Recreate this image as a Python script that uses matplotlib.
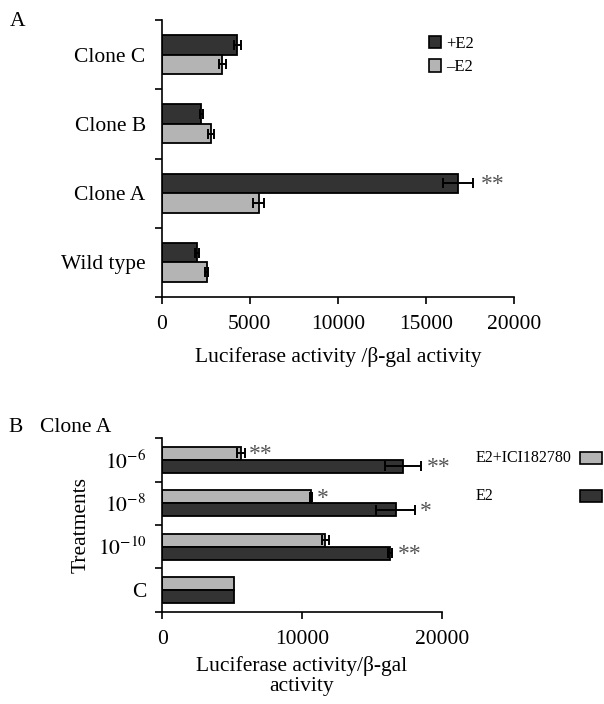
import matplotlib
matplotlib.use("Agg")
import matplotlib.pyplot as plt
import numpy as np
from matplotlib.patches import Rectangle

plt.rcParams['font.family'] = ['Liberation Serif', 'DejaVu Serif']
plt.rcParams['mathtext.fontset'] = 'stix'

# ---------------- Data: panel A ----------------
clones = ['Wild type', 'Clone A', 'Clone B', 'Clone C']
plus_e2 = [2000, 16800, 2250, 4300]
plus_e2_err = [100, 850, 100, 200]
minus_e2 = [2550, 5500, 2800, 3450]
minus_e2_err = [100, 300, 150, 200]
plus_e2_sig = ['', '**', '', '']
a_ticks = [0, 5000, 10000, 15000, 20000]

# ---------------- Data: panel B ----------------
treatments = ['C', r'$10^{-10}$', r'$10^{-8}$', r'$10^{-6}$']
e2_ici = [5130, 11650, 10650, 5630]
e2_ici_err = [0, 250, 100, 300]
e2_ici_sig = ['', '', '*', '**']
e2 = [5130, 16300, 16700, 17250]
e2_err = [0, 150, 1370, 1300]
e2_sig = ['', '**', '*', '**']
b_ticks = [0, 10000, 20000]

DARK = '#333333'
LIGHT = '#b4b4b4'
FS = 15.5

W, H = 604, 704
fig = plt.figure(figsize=(W / 100, H / 100), dpi=100)


def px_axes(l, t, r, b):
    return fig.add_axes([l / W, 1 - b / H, (r - l) / W, (b - t) / H])


def style_axes(ax, n, xt, xmax):
    for s in ('top', 'right'):
        ax.spines[s].set_visible(False)
    for s in ('left', 'bottom'):
        ax.spines[s].set_linewidth(1.2)
    ax.set_xlim(0, xmax)
    ax.set_ylim(-0.5, n - 0.5)
    ax.set_xticks(xt)
    ax.set_xticklabels([str(v) for v in xt])
    ax.set_yticks(np.arange(n + 1) - 0.5, minor=True)
    ax.tick_params(axis='y', which='minor', length=5, width=1.2, direction='out')
    ax.tick_params(axis='y', which='major', length=0, pad=11.5, labelsize=FS)
    ax.tick_params(axis='x', length=5, width=1.2, direction='out', pad=8, labelsize=FS)


def draw_bars(ax, y, vals, errs, color, h, sigs, offset_pt=5):
    ax.barh(y, vals, height=h, color=color, edgecolor='black', linewidth=1.3)
    vals = np.asarray(vals, float)
    errs = np.asarray(errs, float)
    m = errs > 0
    ax.errorbar(vals[m], np.asarray(y)[m], xerr=errs[m], fmt='none',
                ecolor='black', elinewidth=1.4, capsize=3.5, capthick=1.4)
    for yi, v, e, s in zip(y, vals, errs, sigs):
        if s:
            ax.annotate(s, xy=(v + e, yi), xytext=(offset_pt, -1),
                        textcoords='offset points', ha='left', va='center',
                        fontsize=17, color='#555555')


# ---------------- Panel A ----------------
axA = px_axes(161.7, 20, 514, 297)
ya = np.arange(len(clones))
hA = 0.28
draw_bars(axA, ya + hA / 2, plus_e2, plus_e2_err, DARK, hA, plus_e2_sig, offset_pt=6)
draw_bars(axA, ya - hA / 2, minus_e2, minus_e2_err, LIGHT, hA, ['', '', '', ''])
axA.set_yticks(ya)
axA.set_yticklabels(clones)
style_axes(axA, len(clones), a_ticks, 20000)
axA.set_xlabel('Luciferase activity /β-gal activity', fontsize=FS, labelpad=9)
handles = [Rectangle((0, 0), 1, 1, facecolor=DARK, edgecolor='black', linewidth=1.2),
           Rectangle((0, 0), 1, 1, facecolor=LIGHT, edgecolor='black', linewidth=1.2)]
axA.legend(handles, ['+E2', '–E2'], loc='upper left', bbox_to_anchor=(0.725, 0.985),
           frameon=False, fontsize=12, handlelength=0.75, handleheight=0.75,
           handletextpad=0.3, labelspacing=0.45, borderaxespad=0.3)
fig.text(10 / W, 1 - 22 / H, 'A', fontsize=FS, va='center', ha='left')

# ---------------- Panel B ----------------
axB = px_axes(162.3, 438.3, 441.7, 611.7)
yb = np.arange(len(treatments))
hB = 0.3
draw_bars(axB, yb + hB / 2, e2_ici, e2_ici_err, LIGHT, hB, e2_ici_sig, offset_pt=3)
draw_bars(axB, yb - hB / 2, e2, e2_err, DARK, hB, e2_sig, offset_pt=4)
axB.set_yticks(yb)
axB.set_yticklabels(treatments)
style_axes(axB, len(treatments), b_ticks, 20000)
axB.set_xlabel('Luciferase activity/β-gal\nactivity', fontsize=FS, labelpad=5,
               linespacing=1.1)
axB.set_ylabel('Treatments', fontsize=FS, labelpad=5)
fig.text(8 / W, 1 - 427 / H, 'B', fontsize=FS, va='center', ha='left')
fig.text(40 / W, 1 - 427 / H, 'Clone A', fontsize=FS, va='center', ha='left')

# legend for panel B: text left, swatch right
for lab, col, yc in [('E2+ICI182780', LIGHT, 458), ('E2', DARK, 496)]:
    fig.text(476 / W, 1 - yc / H, lab, fontsize=11.5, va='center', ha='left')
    fig.add_artist(Rectangle((580 / W, 1 - (yc + 6) / H), 22 / W, 12 / H,
                             transform=fig.transFigure, facecolor=col,
                             edgecolor='black', linewidth=1.2))

fig.savefig('out.png', dpi=100)
